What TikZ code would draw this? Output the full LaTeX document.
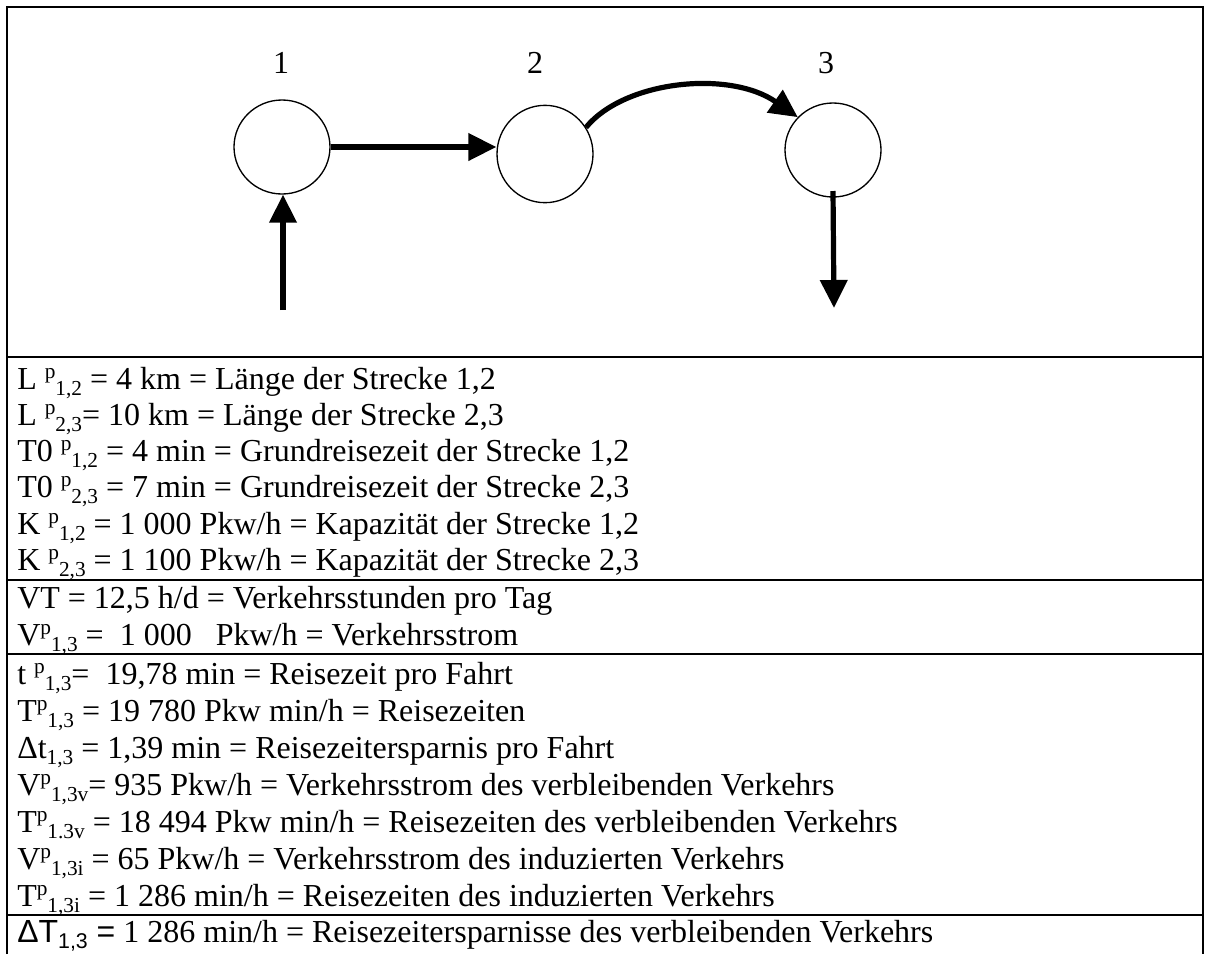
\documentclass[tikz,border=0pt]{standalone}
\usepackage{fontspec}
\setmainfont{Liberation Serif}
\newfontfamily\arialf{Liberation Sans}
\usetikzlibrary{arrows.meta,shapes.geometric}
\newcommand\hochx[1]{\raisebox{0.33em}{\fontsize{16}{16}\selectfont #1}}
\newcommand\tiefx[1]{\raisebox{-0.2em}{\fontsize{16}{16}\selectfont #1}}
\tikzset{
  txt/.style={font=\fontsize{24}{28}\selectfont, anchor=base west, inner sep=0pt},
  numlab/.style={font=\fontsize{24}{28}\selectfont, anchor=base, inner sep=0pt},
  knot/.style={draw, ellipse, line width=1pt, minimum width=72pt, minimum height=70.5pt, inner sep=0pt},
  arr/.style={line width=3.9pt, -{Triangle[length=21pt,width=20pt]}},
  frame/.style={line width=1.6pt},
  sep/.style={line width=1.6pt}
}
\begin{document}
\begin{tikzpicture}[x=0.75pt,y=-0.75pt]
\useasboundingbox (0,0) rectangle (1205,954);
% frame
\draw[frame] (7,954) -- (7,7) -- (1203,7) -- (1203,954);
\draw[sep] (7,357) -- (1203,357);
\draw[sep] (7,580) -- (1203,580);
\draw[sep] (7,654) -- (1203,654);
\draw[sep] (7,915) -- (1203,915);
% graph
\node[numlab] (l1) at (281,73) {1};
\node[numlab] (l2) at (535,73) {2};
\node[numlab] (l3) at (826,73) {3};
\node[knot] (n1) at (282,147) {};
\node[knot, minimum height=73pt] (n2) at (545,154) {};
\node[knot] (n3) at (833,150) {};
\coordinate (in) at (283,310);
\coordinate (out) at (834,308);
\draw[arr] (n1.east) -- (n1.east -| n2.west);
\draw[arr] (n2.33) .. controls (625,80) and (730,70) .. (n3.137);
\draw[arr] (in) -- (in |- n1.south);
\draw[arr] ([yshift=5pt]n3.south) -- (out);
% rows
\node[txt] (r1) at (17,389) {L \hochx{p}\tiefx{1,2} = 4 km = Länge der Strecke 1,2};
\node[txt] (r2) at (17,425) {L \hochx{p}\tiefx{2,3}= 10 km = Länge der Strecke 2,3};
\node[txt] (r3) at (17,461) {T0 \hochx{p}\tiefx{1,2} = 4 min = Grundreisezeit der Strecke 1,2};
\node[txt] (r4) at (17,497) {T0 \hochx{p}\tiefx{2,3} = 7 min = Grundreisezeit der Strecke 2,3};
\node[txt] (r5) at (17,534) {K \hochx{p}\tiefx{1,2} = 1 000 Pkw/h = Kapazität der Strecke 1,2};
\node[txt] (r6) at (17,570) {K \hochx{p}\tiefx{2,3} = 1 100 Pkw/h = Kapazität der Strecke 2,3};
\node[txt] (r7) at (17,608) {VT = 12,5 h/d = Verkehrsstunden pro Tag};
\node[txt] (r8) at (17,645) {V\hochx{p}\tiefx{1,3} =\ \ 1 000\ \ \ Pkw/h = Verkehrsstrom};
\node[txt] (r9) at (17,684) {t \hochx{p}\tiefx{1,3}=\ \ 19,78 min = Reisezeit pro Fahrt};
\node[txt] (r10) at (17,721) {T\hochx{p}\tiefx{1,3} = 19 780 Pkw min/h = Reisezeiten};
\node[txt] (r11) at (17,758) {Δt\tiefx{1,3} = 1,39 min = Reisezeitersparnis pro Fahrt};
\node[txt] (r12) at (17,795) {V\hochx{p}\tiefx{1,3v}= 935 Pkw/h = Verkehrsstrom des verbleibenden Verkehrs};
\node[txt] (r13) at (17,832) {T\hochx{p}\tiefx{1.3v} = 18 494 Pkw min/h = Reisezeiten des verbleibenden Verkehrs};
\node[txt] (r14) at (17,869) {V\hochx{p}\tiefx{1,3i} = 65 Pkw/h = Verkehrsstrom des induzierten Verkehrs};
\node[txt] (r15) at (17,906) {T\hochx{p}\tiefx{1,3i} = 1 286 min/h = Reisezeiten des induzierten Verkehrs};
\node[txt] (r16) at (17,942) {{\arialf ΔT\tiefx{1,3} =} 1 286 min/h = Reisezeitersparnisse des verbleibenden Verkehrs};
\end{tikzpicture}
\end{document}
